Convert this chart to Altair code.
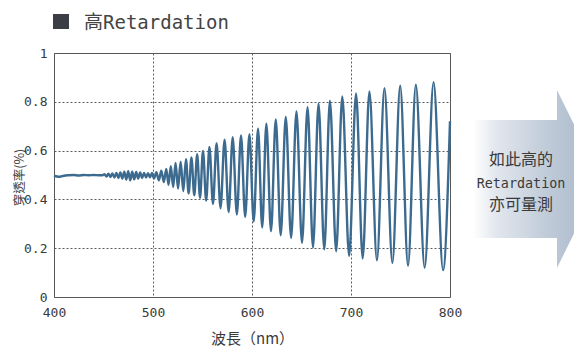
import altair as alt
import pandas as pd

# Wavelength (nm) and transmittance (extrema of the fringes)
wavelength = [
    400, 403, 406, 410, 415, 420, 425, 430, 435, 440, 445, 449,
    451, 453, 455, 457, 459, 461, 463, 465, 467, 469, 471, 473, 475, 477,
    479, 481, 483, 485, 487, 489, 491, 493, 495, 497, 499, 501,
    503.4, 505.9, 508.4, 510.9, 513.4, 515.7, 518.0, 520.4, 522.8, 525.3,
    527.9, 530.6, 533.3, 536.0, 538.8, 541.7, 544.6, 547.5, 550.5, 553.7,
    557.0, 560.6, 564.2, 568.2, 572.3, 576.4, 580.5, 584.7, 588.9, 593.1,
    597.4, 601.7, 606.1, 610.3, 614.5, 619.2, 624.0, 629.0, 634.1, 639.5,
    644.9, 650.5, 656.1, 661.6, 667.2, 673.0, 678.7, 685.0, 691.2, 698.1,
    705.1, 711.8, 718.6, 726.2, 733.8, 741.8, 749.7, 757.6, 765.5, 774.4,
    783.4, 793.0, 800.0,
]
transmittance = [
    0.497, 0.494, 0.493, 0.497, 0.499, 0.500, 0.498, 0.500, 0.499, 0.500, 0.499, 0.499,
    0.503, 0.494, 0.505, 0.492, 0.506, 0.490, 0.508, 0.488, 0.510, 0.485, 0.514, 0.481, 0.516, 0.478,
    0.514, 0.482, 0.512, 0.485, 0.510, 0.488, 0.508, 0.490, 0.507, 0.491, 0.508, 0.486,
    0.511, 0.478, 0.518, 0.471, 0.525, 0.460, 0.536, 0.451, 0.549, 0.444,
    0.554, 0.434, 0.565, 0.424, 0.572, 0.417, 0.585, 0.407, 0.599, 0.395,
    0.615, 0.382, 0.630, 0.364, 0.645, 0.348, 0.655, 0.338, 0.662, 0.328,
    0.667, 0.310, 0.690, 0.285, 0.710, 0.270, 0.728, 0.253, 0.738, 0.242,
    0.760, 0.222, 0.778, 0.203, 0.792, 0.195, 0.805, 0.187, 0.822, 0.168,
    0.834, 0.158, 0.842, 0.150, 0.856, 0.140, 0.866, 0.128, 0.870, 0.120,
    0.880, 0.110, 0.720,
]

x_ticks = [400, 500, 600, 700, 800]
y_ticks = [0, 0.2, 0.4, 0.6, 0.8, 1]

title_text = "高Retardation"
x_title = "波長（nm）"
y_title = "穿透率(%)"
arrow_lines = ["如此高的", "Retardation", "亦可量測"]

MONO = "'DejaVu Sans Mono', 'Noto Sans CJK TC'"
CJK = "'Noto Sans CJK TC', 'DejaVu Sans Mono'"
TEXT = "#3a3a3a"

df = pd.DataFrame({"wl": wavelength, "t": transmittance})
one = pd.DataFrame({"k": [0]})

W, H = 396, 244

grid = dict(grid=True, gridColor="#5a5a5a", gridDash=[2, 2], gridWidth=1,
            ticks=False, domain=False, labelFont=MONO, labelFontSize=13,
            labelColor=TEXT, labelFlush=False, titleFont=CJK, titleColor=TEXT,
            titleFontWeight="normal")

line = alt.Chart(df).mark_line(color="#3d6b8f", strokeWidth=2.4, interpolate="monotone").encode(
    x=alt.X("wl:Q", scale=alt.Scale(domain=[400, 800], nice=False),
            axis=alt.Axis(values=x_ticks, title=x_title, labelPadding=9,
                          titleFontSize=15, titleY=34, titleBaseline="top", **grid)),
    y=alt.Y("t:Q", scale=alt.Scale(domain=[0, 1], nice=False),
            axis=alt.Axis(values=y_ticks, title=y_title, labelPadding=7,
                          labelExpr="datum.value == 0 ? '0' : datum.value == 1 ? '1' : format(datum.value, '.1f')",
                          titleFontSize=12.5, titleX=-31, titleY=124, titleAngle=-90,
                          titleBaseline="alphabetic", **grid)),
)

square = alt.Chart(one).mark_rect(color="#3b3f45").encode(
    x=alt.value(-1), x2=alt.value(15), y=alt.value(-39), y2=alt.value(-24)
)
title = alt.Chart(one).mark_text(text=title_text, font=MONO, fontSize=19, color="#444",
                                 align="left", baseline="alphabetic").encode(
    x=alt.value(30), y=alt.value(-24)
)

arrow_path = "M -64 -59 L 20 -59 L 20 -89 L 64 0 L 20 89 L 20 59 L -64 59 Z"
grad = alt.LinearGradient(gradient="linear", x1=0, x2=1, y1=0, y2=0, stops=[
    alt.GradientStop(color="#ffffff", offset=0),
    alt.GradientStop(color="#e2e7ee", offset=0.18),
    alt.GradientStop(color="#c2cdda", offset=0.55),
    alt.GradientStop(color="#a3b3c6", offset=1),
])
arrow = alt.Chart(one).mark_point(shape=arrow_path, size=4, filled=True, fill=grad,
                                  opacity=1, strokeWidth=0).encode(
    x=alt.value(483), y=alt.value(126)
)
t1 = alt.Chart(one).mark_text(text=arrow_lines[0], font=CJK, fontSize=16, color=TEXT,
                              align="center", baseline="middle").encode(x=alt.value(467), y=alt.value(107))
t2 = alt.Chart(one).mark_text(text=arrow_lines[1], font=MONO, fontSize=13.4, color=TEXT,
                              align="center", baseline="middle").encode(x=alt.value(467), y=alt.value(131))
t3 = alt.Chart(one).mark_text(text=arrow_lines[2], font=CJK, fontSize=16, color=TEXT,
                              align="center", baseline="middle").encode(x=alt.value(467), y=alt.value(152))

chart = alt.layer(arrow, line, square, title, t1, t2, t3).properties(
    width=W, height=H,
    autosize=alt.AutoSizeParams(type="none"),
    padding={"left": 46, "top": 45, "right": 124, "bottom": 56},
).configure_view(stroke="#555", strokeWidth=1)

chart.save("out.html", embed_options={"renderer": "svg", "actions": False})
